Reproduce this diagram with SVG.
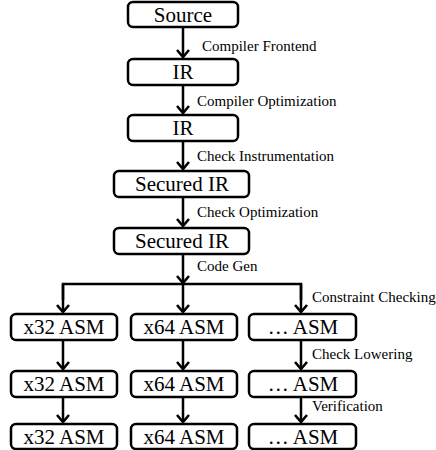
<svg xmlns="http://www.w3.org/2000/svg" width="436" height="450" viewBox="0 0 436 450">
<style>
.box{fill:#fff;stroke:#000;stroke-width:2.5}
.bt{font-family:"Liberation Serif","Times New Roman",serif;font-size:21px;text-anchor:middle;dominant-baseline:central;fill:#000}
.lb{font-family:"Liberation Serif","Times New Roman",serif;font-size:15px;dominant-baseline:central;fill:#000}
.ln{stroke:#000;stroke-width:2.5;fill:none}
</style>
<defs>
<marker id="ah" viewBox="-10 -8 12 16" refX="0" refY="0" markerWidth="12" markerHeight="16" markerUnits="userSpaceOnUse" orient="auto">
<path d="M-7,-6 L0,0 L-7,6" fill="none" stroke="#000" stroke-width="2.6"/>
</marker>
</defs>
<g id="connectors">
<line class="ln" x1="183" y1="27" x2="183" y2="57" marker-end="url(#ah)"/>
<line class="ln" x1="183" y1="85" x2="183" y2="113" marker-end="url(#ah)"/>
<line class="ln" x1="183" y1="141" x2="183" y2="169" marker-end="url(#ah)"/>
<line class="ln" x1="183" y1="197" x2="183" y2="226" marker-end="url(#ah)"/>
<line class="ln" x1="183" y1="254" x2="183" y2="283" marker-end="url(#ah)"/>
<polyline class="ln" points="63,300 63,284 301,284 301,300"/>
<line class="ln" x1="63" y1="284" x2="63" y2="312" marker-end="url(#ah)"/>
<line class="ln" x1="183" y1="284" x2="183" y2="312" marker-end="url(#ah)"/>
<line class="ln" x1="301" y1="284" x2="301" y2="312" marker-end="url(#ah)"/>
<line class="ln" x1="63" y1="340" x2="63" y2="369" marker-end="url(#ah)"/>
<line class="ln" x1="183" y1="340" x2="183" y2="369" marker-end="url(#ah)"/>
<line class="ln" x1="301" y1="340" x2="301" y2="369" marker-end="url(#ah)"/>
<line class="ln" x1="63" y1="397" x2="63" y2="422" marker-end="url(#ah)"/>
<line class="ln" x1="183" y1="397" x2="183" y2="422" marker-end="url(#ah)"/>
<line class="ln" x1="301" y1="397" x2="301" y2="422" marker-end="url(#ah)"/>
<text class="lb" x="202" y="46">Compiler Frontend</text>
<text class="lb" x="197" y="101">Compiler Optimization</text>
<text class="lb" x="197" y="156">Check Instrumentation</text>
<text class="lb" x="197" y="212">Check Optimization</text>
<text class="lb" x="197" y="266">Code Gen</text>
<text class="lb" x="312" y="297">Constraint Checking</text>
<text class="lb" x="312" y="354">Check Lowering</text>
<text class="lb" x="312" y="406">Verification</text>
</g>
<g id="source"><rect class="box" x="128" y="2" width="110" height="25" rx="5"/><text class="bt" x="183" y="15">Source</text></g>
<g id="ir1"><rect class="box" x="128" y="59" width="110" height="26" rx="5"/><text class="bt" x="183" y="72">IR</text></g>
<g id="ir2"><rect class="box" x="128" y="115" width="110" height="26" rx="5"/><text class="bt" x="183" y="128">IR</text></g>
<g id="secured1"><rect class="box" x="114" y="171" width="135" height="26" rx="5"/><text class="bt" x="182" y="184">Secured IR</text></g>
<g id="secured2"><rect class="box" x="114" y="228" width="135" height="26" rx="5"/><text class="bt" x="182" y="241">Secured IR</text></g>
<g id="x32a"><rect class="box" x="11" y="314" width="106" height="26" rx="5"/><text class="bt" x="64" y="327">x32 ASM</text></g>
<g id="x64a"><rect class="box" x="131" y="314" width="106" height="26" rx="5"/><text class="bt" x="184" y="327">x64 ASM</text></g>
<g id="etca"><rect class="box" x="249" y="314" width="107" height="26" rx="5"/><text class="bt" x="303" y="327">… ASM</text></g>
<g id="x32b"><rect class="box" x="11" y="371" width="106" height="26" rx="5"/><text class="bt" x="64" y="384">x32 ASM</text></g>
<g id="x64b"><rect class="box" x="131" y="371" width="106" height="26" rx="5"/><text class="bt" x="184" y="384">x64 ASM</text></g>
<g id="etcb"><rect class="box" x="249" y="371" width="107" height="26" rx="5"/><text class="bt" x="303" y="384">… ASM</text></g>
<g id="x32c"><rect class="box" x="11" y="424" width="106" height="25" rx="5"/><text class="bt" x="64" y="437">x32 ASM</text></g>
<g id="x64c"><rect class="box" x="131" y="424" width="106" height="25" rx="5"/><text class="bt" x="184" y="437">x64 ASM</text></g>
<g id="etcc"><rect class="box" x="249" y="424" width="107" height="25" rx="5"/><text class="bt" x="303" y="437">… ASM</text></g>
</svg>
